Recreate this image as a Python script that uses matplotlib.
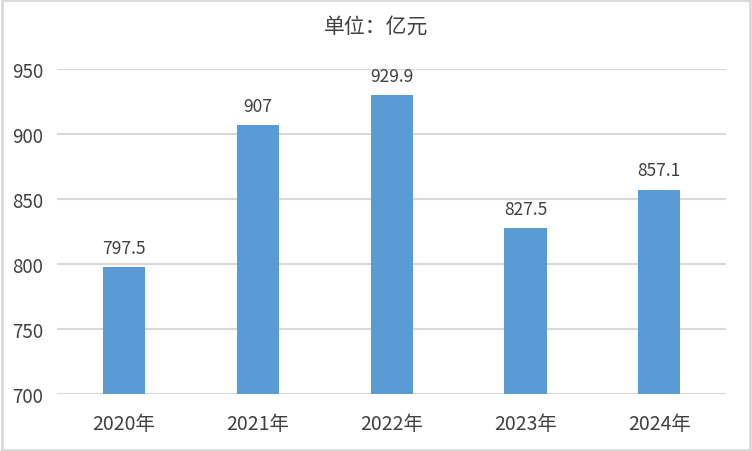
import matplotlib.pyplot as plt
import matplotlib.patches as mpatches

# 数据
years = ["2020年", "2021年", "2022年", "2023年", "2024年"]
values = [797.5, 907, 929.9, 827.5, 857.1]
value_labels = ["797.5", "907", "929.9", "827.5", "857.1"]
yticks = [700, 750, 800, 850, 900, 950]

plt.rcParams['font.family'] = ['Noto Sans CJK SC', 'DejaVu Sans']
text_color = "#404040"

fig = plt.figure(figsize=(7.52, 4.52), dpi=100)
ax = fig.add_axes([0.0758, 0.126, 0.890, 0.719])

x = range(len(years))
ax.bar(x, values, width=0.315, color="#5B9BD5", zorder=3)

for xi, v, lab in zip(x, values, value_labels):
    ax.text(xi, v + 8, lab, ha="center", va="bottom", fontsize=12.5, color=text_color)

ax.set_ylim(700, 950)
ax.set_xlim(-0.5, len(years) - 0.5)
ax.set_yticks(yticks)
ax.set_xticks(list(x))
ax.set_xticklabels(years)
ax.tick_params(axis="y", length=0, labelsize=13.5, labelcolor=text_color, pad=10)
ax.tick_params(axis="x", length=0, labelsize=14, labelcolor=text_color, pad=14)
ax.grid(axis="y", color="#d9d9d9", linewidth=1.5, zorder=0)
for s in ax.spines.values():
    s.set_visible(False)

fig.text(0.5, 0.94, "单位：亿元", ha="center", va="center", fontsize=15, color=text_color)

# 外框
fig.patches.append(mpatches.Rectangle((0.002, 0.003), 0.996, 0.994, transform=fig.transFigure,
                                      fill=False, edgecolor="#d9d9d9", linewidth=2))

fig.savefig("out.png", dpi=100)
